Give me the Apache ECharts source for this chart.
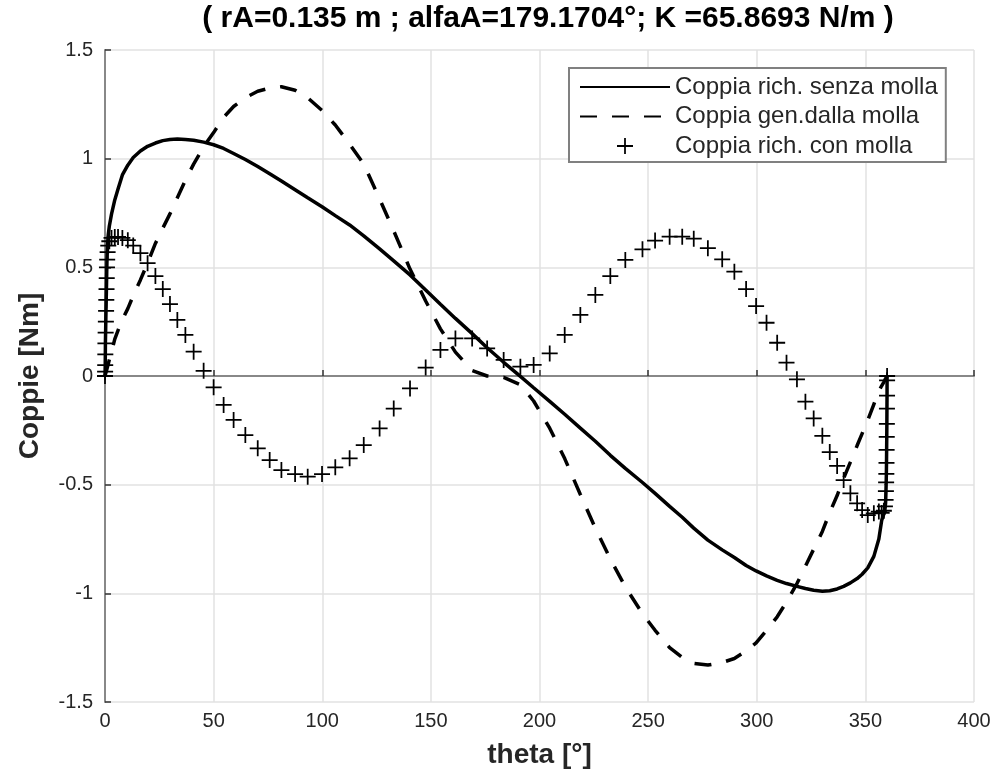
<!DOCTYPE html>
<html>
<head>
<meta charset="UTF-8"/>
<title>Coppie</title>
<script src="https://cdn.jsdelivr.net/npm/echarts@6/dist/echarts.min.js"></script>
<style>
html,body{margin:0;padding:0;background:#fff;}
#chart{width:1000px;height:782px;}
</style>
</head>
<body>
<div id="chart"></div>
<script>
// angolo theta [°] (stessi campioni per le tre curve)
var theta = [0,0.05,0.1,0.15,0.2,0.3,0.4,0.5,0.6,0.7,0.8,0.9,1.0,1.2,1.5,
    2,3,4.5,6,8,10.5,13,16.3,19.6,23.2,26.6,29.9,33.3,37.0,40.8,45.4,50.0,
    54.6,59.2,64.6,70.3,75.8,81.2,87.5,93.3,99.9,106.0,112.6,119.1,126.4,132.9,140.4,147.6,154.4,161.3,169.0,175.9,
    183.5,191.2,197.3,204.7,211.6,218.8,225.7,232.6,239.5,247.4,253.2,259.9,265.7,271.0,277.5,284.1,289.7,295.1,299.7,304.5,
    309.4,313.7,318.5,322.4,326.2,330.2,333.6,337.0,340.0,343.1,346.2,348.5,351.1,353.9,356.2,
    357.5,358.5,359.0,359.3,359.45,359.55,359.65,359.72,359.78,359.84,359.89,359.93,359.97,359.99,360];
// Coppia rich. senza molla [Nm]
var senza = [0,0.02,0.05,0.10,0.16,0.21,0.27,0.32,0.37,0.42,0.48,0.53,0.57,0.61,0.65,
    0.69,0.745,0.81,0.86,0.925,0.97,1.005,1.035,1.057,1.072,1.083,1.088,1.09,1.088,1.085,1.076,1.064,
    1.047,1.024,0.996,0.964,0.931,0.897,0.857,0.82,0.779,0.738,0.695,0.645,0.585,0.53,0.465,0.396,0.33,0.265,0.195,0.13,
    0.063,-0.002,-0.054,-0.117,-0.176,-0.24,-0.30,-0.365,-0.425,-0.49,-0.54,-0.60,-0.65,-0.70,-0.755,-0.80,-0.835,-0.872,-0.897,-0.92,
    -0.94,-0.955,-0.968,-0.978,-0.986,-0.99,-0.988,-0.98,-0.968,-0.952,-0.932,-0.912,-0.883,-0.83,-0.75,
    -0.665,-0.635,-0.615,-0.585,-0.54,-0.50,-0.457,-0.406,-0.345,-0.284,-0.223,-0.152,-0.091,-0.02,0];
// Coppia gen. dalla molla [Nm]
var molla = [0,0.002,0.004,0.006,0.007,0.011,0.015,0.018,0.022,0.026,0.03,0.033,0.037,0.044,0.055,
    0.075,0.11,0.17,0.21,0.26,0.31,0.37,0.442,0.52,0.61,0.68,0.746,0.82,0.9,0.975,1.055,1.12,
    1.19,1.24,1.28,1.31,1.325,1.331,1.315,1.28,1.222,1.155,1.067,0.975,0.815,0.668,0.492,0.345,0.217,0.11,0.025,0.0,
    -0.006,-0.04,-0.115,-0.24,-0.38,-0.545,-0.70,-0.842,-0.97,-1.094,-1.17,-1.25,-1.295,-1.322,-1.33,-1.318,-1.30,-1.265,-1.228,-1.17,
    -1.108,-1.04,-0.955,-0.875,-0.797,-0.715,-0.628,-0.55,-0.471,-0.396,-0.32,-0.265,-0.203,-0.13,-0.07,
    -0.045,-0.028,-0.018,-0.013,-0.01,-0.008,-0.006,-0.005,-0.004,-0.003,-0.002,-0.001,-0.001,0,0];
// Coppia rich. con molla [Nm]
var con = [0,0.02,0.05,0.10,0.15,0.20,0.25,0.30,0.35,0.40,0.45,0.50,0.535,0.57,0.60,
    0.62,0.635,0.64,0.64,0.635,0.625,0.60,0.565,0.519,0.46,0.40,0.331,0.258,0.189,0.112,0.024,-0.052,
    -0.133,-0.202,-0.272,-0.333,-0.387,-0.433,-0.451,-0.463,-0.451,-0.420,-0.379,-0.318,-0.241,-0.150,-0.057,0.039,0.120,0.173,0.173,0.127,
    0.074,0.043,0.051,0.104,0.189,0.281,0.373,0.460,0.534,0.583,0.623,0.641,0.641,0.632,0.588,0.537,0.480,0.400,0.322,0.245,
    0.153,0.061,-0.015,-0.118,-0.195,-0.275,-0.350,-0.414,-0.479,-0.540,-0.586,-0.617,-0.640,-0.632,-0.624,
    -0.63,-0.62,-0.60,-0.57,-0.53,-0.49,-0.45,-0.40,-0.34,-0.28,-0.22,-0.15,-0.09,-0.02,0];

var nomi = ['Coppia rich. senza molla', 'Coppia gen.dalla molla', 'Coppia rich. con molla'];

function punti(ys) {
    var out = [];
    for (var i = 0; i < theta.length; i++) {
        out.push([theta[i], ys[i]]);
    }
    return out;
}

var croce = 'path://M4.45,0h1.1v4.45h4.45v1.1h-4.45v4.45h-1.1v-4.45h-4.45v-1.1h4.45z';
var font = 'Liberation Sans';
var fontStretta = "'Liberation Sans Narrow', 'Liberation Sans'";

var chart = echarts.init(document.getElementById('chart'));
chart.setOption({
    animation: false,
    title: {
        text: '( rA=0.135 m ; alfaA=179.1704°; K =65.8693 N/m )',
        left: 548, top: 4, padding: 0, textAlign: 'center',
        textStyle: {fontFamily: font, fontWeight: 'bold', fontSize: 30, color: '#000'}
    },
    grid: {left: 105, right: 26, top: 50, bottom: 80, containLabel: false},
    legend: {
        orient: 'vertical', left: 569, top: 68,
        padding: [7, 8, 4, 10], itemGap: 5.5, itemWidth: 90, itemHeight: 16,
        backgroundColor: '#fff', borderColor: '#808080', borderWidth: 2, borderRadius: 0,
        textStyle: {fontFamily: font, fontSize: 24, color: '#262626'},
        data: [
            {name: nomi[0], itemStyle: {opacity: 0}},
            {name: nomi[1], itemStyle: {opacity: 0}},
            {name: nomi[2]}
        ]
    },
    xAxis: {
        type: 'value', min: 0, max: 400, interval: 50,
        name: 'theta [°]', nameLocation: 'middle', nameGap: 39,
        nameTextStyle: {fontFamily: font, fontWeight: 'bold', fontSize: 28, color: '#262626'},
        axisLine: {lineStyle: {color: '#888', width: 2}},
        axisTick: {inside: true, length: 6, lineStyle: {color: '#333', width: 1.5}},
        axisLabel: {margin: 9, fontFamily: fontStretta, fontSize: 20, color: '#262626'},
        splitLine: {show: true, lineStyle: {color: '#e2e2e2', width: 1.5}}
    },
    yAxis: {
        type: 'value', min: -1.5, max: 1.5, interval: 0.5,
        name: 'Coppie [Nm]', nameLocation: 'middle', nameGap: 61,
        nameTextStyle: {fontFamily: font, fontWeight: 'bold', fontSize: 28, color: '#262626'},
        axisLine: {show: true, lineStyle: {color: '#888', width: 2}},
        axisTick: {show: true, inside: true, length: 6, lineStyle: {color: '#333', width: 1.5}},
        axisLabel: {margin: 12, fontFamily: fontStretta, fontSize: 20, color: '#262626'},
        splitLine: {show: true, lineStyle: {color: '#e2e2e2', width: 1.5}}
    },
    series: [
        {
            name: nomi[0], type: 'line', data: punti(senza), showSymbol: false, smooth: false,
            itemStyle: {color: '#000'},
            lineStyle: {color: '#000', width: 3.5}, z: 3
        },
        {
            name: nomi[1], type: 'line', data: punti(molla), showSymbol: false, smooth: false,
            itemStyle: {color: '#000'},
            lineStyle: {color: '#000', width: 3.5, type: [17, 15], cap: 'butt'}, z: 4
        },
        {
            name: nomi[2], type: 'scatter', data: punti(con),
            symbol: croce, symbolSize: 16,
            itemStyle: {color: '#000', opacity: 1}, z: 5
        }
    ]
});
</script>
</body>
</html>
